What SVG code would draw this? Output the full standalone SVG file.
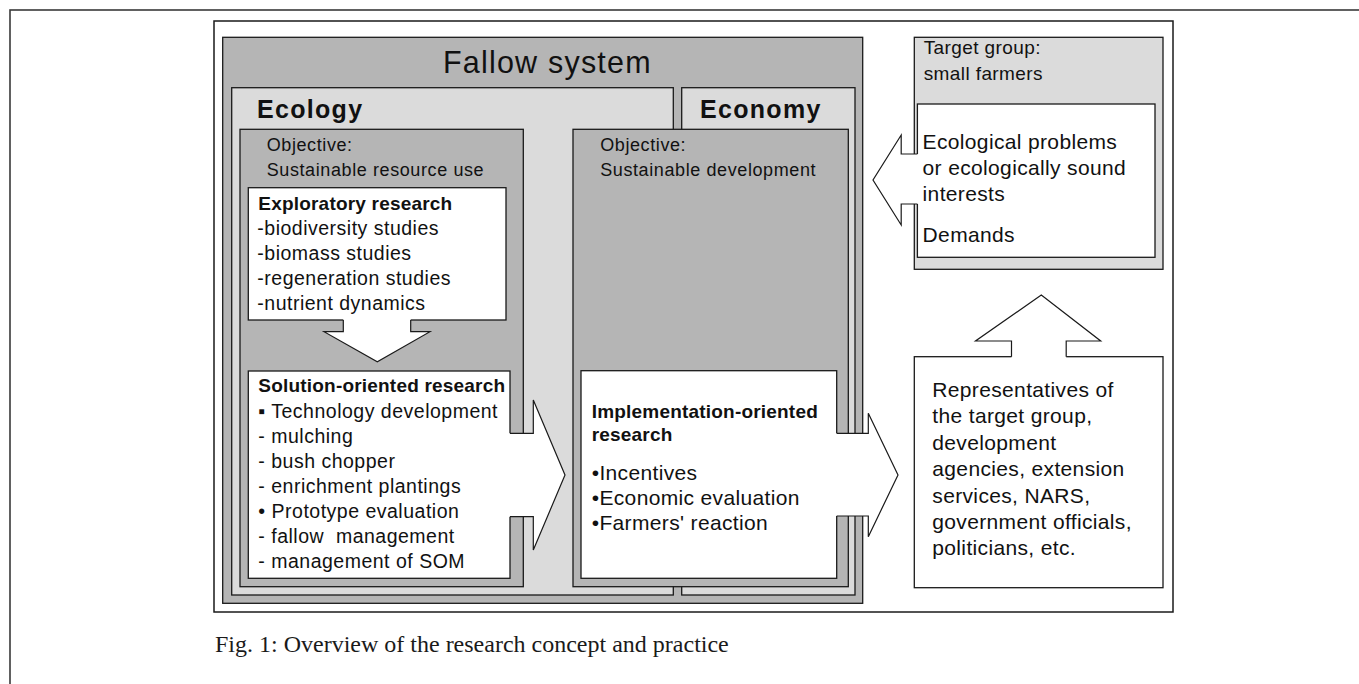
<svg xmlns="http://www.w3.org/2000/svg" width="1359" height="684" viewBox="0 0 1359 684">
<style>
.frame{fill:none;stroke:#3a3a3a;stroke-width:1.6}
.bx{stroke:#1a1a1a;stroke-width:1.3}
.g1{fill:#b5b5b5}
.g2{fill:#dbdbdb}
.w{fill:#ffffff}
.af{fill:#ffffff;stroke:none}
.as{fill:none;stroke:#1a1a1a;stroke-width:1.2;stroke-linejoin:miter}
text{font-family:"Liberation Sans",Arial,sans-serif;fill:#111}
.title{font-size:30.5px;letter-spacing:1.2px}
.hd{font-size:25px;font-weight:bold;letter-spacing:1.3px}
.obj{font-size:18px;letter-spacing:0.6px}
.bh{font-size:19px;font-weight:bold;letter-spacing:0.2px}
.bt{font-size:19.5px;letter-spacing:0.5px}
.lt{font-size:21px;letter-spacing:0.35px}
.tg{font-size:19px;letter-spacing:0.4px}
.cap{font-family:"Liberation Serif","Times New Roman",serif;font-size:24px;fill:#1a1a1a}
</style>

<rect class="frame" x="10" y="10" width="1360" height="690"/>
<rect x="214" y="21" width="959" height="591" fill="#fff" stroke="#1a1a1a" stroke-width="1.5"/>

<g id="fallow-system">
<rect class="bx g1" x="222.7" y="37.3" width="640" height="566"/>
<text class="title" x="443" y="73">Fallow system</text>
</g>

<g id="ecology">
<rect class="bx g2" x="231.7" y="87.7" width="441.6" height="507.3"/>
<text class="hd" x="257" y="117.5">Ecology</text>
</g>

<g id="economy">
<rect class="bx g2" x="681.7" y="87.7" width="173.3" height="507.3"/>
<text class="hd" x="700" y="117.5">Economy</text>
</g>

<g id="ecology-objective">
<rect class="bx g1" x="240" y="129.3" width="283.3" height="457.4"/>
<text class="obj" x="266.7" y="151">Objective:</text>
<text class="obj" x="266.7" y="176">Sustainable resource use</text>
</g>

<g id="economy-objective">
<rect class="bx g1" x="573" y="129.3" width="275.3" height="457.4"/>
<text class="obj" x="600.2" y="150.5">Objective:</text>
<text class="obj" x="600.2" y="175.5">Sustainable development</text>
</g>

<g id="exploratory-research">
<rect class="bx w" x="248.3" y="187.7" width="257.7" height="132.3"/>
<text class="bh" x="258.3" y="210">Exploratory research</text>
<text class="bt" x="257.3" y="235">-biodiversity studies</text>
<text class="bt" x="257.3" y="260">-biomass studies</text>
<text class="bt" x="257.3" y="285">-regeneration studies</text>
<text class="bt" x="257.3" y="310">-nutrient dynamics</text>
</g>

<g id="solution-oriented-research">
<rect class="bx w" x="248.3" y="371" width="261.7" height="207.3"/>
<text class="bh" x="258.3" y="391.7">Solution-oriented research</text>
<text class="bt" x="258.3" y="418.3">▪ Technology development</text>
<text class="bt" x="258.3" y="443.3">- mulching</text>
<text class="bt" x="258.3" y="468.3">- bush chopper</text>
<text class="bt" x="258.3" y="493.3">- enrichment plantings</text>
<text class="bt" x="258.3" y="518.3">• Prototype evaluation</text>
<text class="bt" x="258.3" y="543.3" xml:space="preserve">- fallow  management</text>
<text class="bt" x="258.3" y="568.3">- management of SOM</text>
</g>

<g id="implementation-oriented-research">
<rect class="bx w" x="581" y="370.7" width="255.7" height="207.6"/>
<text class="bh" x="591.7" y="417.5">Implementation-oriented</text>
<text class="bh" x="591.7" y="440.5">research</text>
<text class="lt" x="591.7" y="480">•Incentives</text>
<text class="lt" x="591.7" y="505">•Economic evaluation</text>
<text class="lt" x="591.7" y="530">•Farmers' reaction</text>
</g>

<g id="target-group">
<rect class="bx g2" x="914.3" y="37.3" width="248.7" height="232"/>
<text class="tg" x="923.7" y="54">Target group:</text>
<text class="tg" x="923.7" y="80">small farmers</text>
<rect class="bx w" x="917.4" y="104" width="237.6" height="153.3"/>
<text class="lt" x="922.6" y="148.5">Ecological problems</text>
<text class="lt" x="922.6" y="174.5">or ecologically sound</text>
<text class="lt" x="922.6" y="200.5">interests</text>
<text class="lt" x="922.6" y="242">Demands</text>
</g>

<g id="representatives">
<rect class="bx w" x="914.3" y="356.7" width="248.7" height="231"/>
<text class="lt" x="932.3" y="397">Representatives of</text>
<text class="lt" x="932.3" y="423.4">the target group,</text>
<text class="lt" x="932.3" y="449.8">development</text>
<text class="lt" x="932.3" y="476.2">agencies, extension</text>
<text class="lt" x="932.3" y="502.6">services, NARS,</text>
<text class="lt" x="932.3" y="529">government officials,</text>
<text class="lt" x="932.3" y="555.4">politicians, etc.</text>
</g>

<g id="connectors">
<polygon class="af" points="343.3,315 343.3,331.7 324,331.7 377.3,361.7 430,331.7 410.7,331.7 410.7,315"/>
<path class="as" d="M343.3,320 V331.7 H324 L377.3,361.7 L430,331.7 H410.7 V320"/>
<polygon class="af" points="505,433.3 533.3,433.3 533.3,400 565,475 533.3,550 533.3,516.7 505,516.7"/>
<path class="as" d="M510,433.3 H533.3 V400 L565,475 L533.3,550 V516.7 H510"/>
<polygon class="af" points="832,433.3 868.3,433.3 868.3,413.3 898,475 868.3,536.7 868.3,516 832,516"/>
<path class="as" d="M836.7,433.3 H868.3 V413.3 L898,475 L868.3,536.7 V516 H836.7"/>
<polygon class="af" points="1011.5,362 1011.5,341 975.5,341 1041.3,295 1100.7,341 1066.2,341 1066.2,362"/>
<path class="as" d="M1011.5,356.7 V341 H975.5 L1041.3,295 L1100.7,341 H1066.2 V356.7"/>
<polygon class="af" points="922,154 901.2,154 901.2,135 873,180 901.2,225 901.2,204 922,204"/>
<path class="as" d="M917.4,154 H901.2 V135 L873,180 L901.2,225 V204 H917.4"/>
</g>

<text class="cap" x="215" y="651.5">Fig. 1: Overview of the research concept and practice</text>
</svg>
